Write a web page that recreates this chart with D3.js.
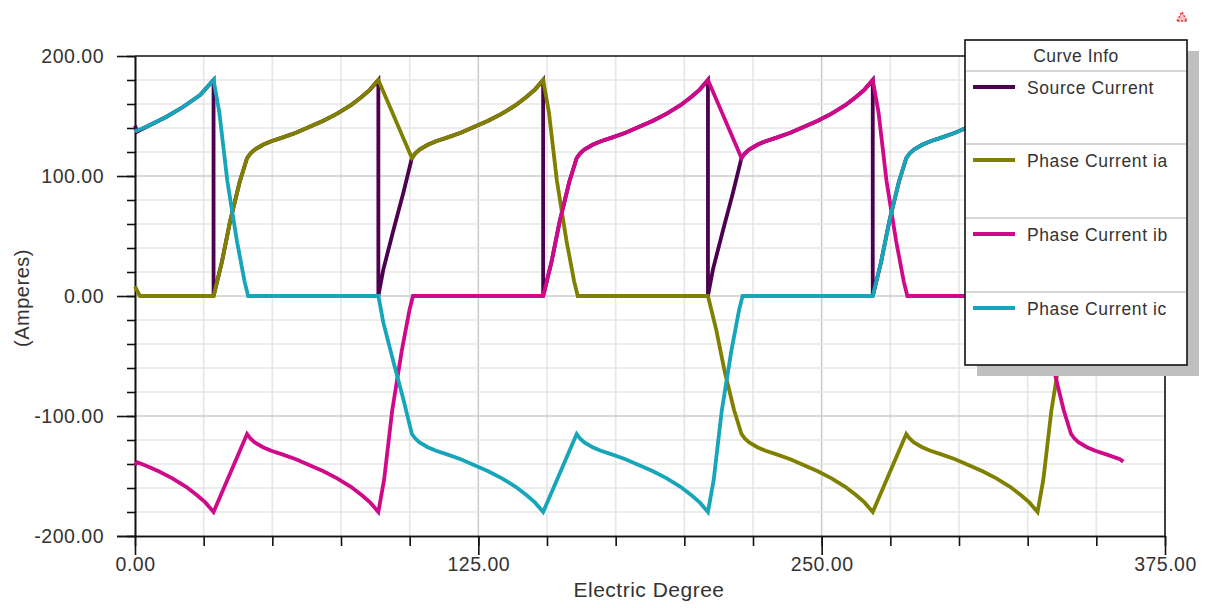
<!DOCTYPE html>
<html>
<head>
<meta charset="utf-8">
<script src="https://cdn.jsdelivr.net/npm/d3@7/dist/d3.min.js"></script>
<style>
  html, body { margin: 0; padding: 0; background: #ffffff; }
  svg { display: block; }
  text { font-family: "Liberation Sans", Arial, sans-serif; fill: #333333; }
</style>
</head>
<body>
<svg id="chart" width="1207" height="608"></svg>
<script>
// ---- data: [electric degree, amperes] ----
const degreeTicks = [0, 125, 250, 375];
const ampereTicks = [-200, -100, 0, 100, 200];
const seriesNames = ["Source Current", "Phase Current ia", "Phase Current ib", "Phase Current ic"];
const seriesColors = ["#4d0050", "#808000", "#cf0a8a", "#17a5ba"];

const sourceCurrent = [
  [0,142],[0.8,137],[5.5,142.5],[11.5,149.4],[17.6,157.7],[23.7,167.5],[28.6,180],[28.6,0],
  [31.6,28],[34.6,62],[38.1,95],[40.8,115],
  [42.1,119],[43.6,122],[46.6,126],[49.6,129],[53.6,132],[58.6,136],[63.6,141],[68.6,146],[73.6,152],[78.6,159],[82.6,166],[85.6,172],[88.6,180],[88.6,0],
  [90.4,22],[94.1,55],[97.7,86],[100.8,115],
  [102.1,119],[103.6,122],[106.6,126],[109.6,129],[113.6,132],[118.6,136],[123.6,141],[128.6,146],[133.6,152],[138.6,159],[142.6,166],[145.6,172],[148.6,180],[148.6,0],
  [151.6,28],[154.6,62],[158.1,95],[160.8,115],
  [162.1,119],[163.6,122],[166.6,126],[169.6,129],[173.6,132],[178.6,136],[183.6,141],[188.6,146],[193.6,152],[198.6,159],[202.6,166],[205.6,172],[208.6,180],[208.6,0],
  [210.4,22],[214.1,55],[217.7,86],[220.8,115],
  [222.1,119],[223.6,122],[226.6,126],[229.6,129],[233.6,132],[238.6,136],[243.6,141],[248.6,146],[253.6,152],[258.6,159],[262.6,166],[265.6,172],[268.6,180],[268.6,0],
  [271.6,28],[274.6,62],[278.1,95],[280.8,115],
  [282.1,119],[283.6,122],[286.6,126],[289.6,129],[293.6,132],[298.6,136],[303.6,141],[308.6,146],[313.6,152],[318.6,159],[322.6,166],[325.6,172],[328.6,180],[328.6,0],
  [330.4,22],[334.1,55],[337.7,86],[340.8,115],
  [342.1,119],[343.6,122],[346.6,126],[349.6,129],[353.6,132],[358.6,136],[359.8,137.5]
];

const phaseA = [
  [0,8],[1.8,0],[28.6,0],
  [31.6,28],[34.6,62],[38.1,95],[40.8,115],
  [42.1,119],[43.6,122],[46.6,126],[49.6,129],[53.6,132],[58.6,136],[63.6,141],[68.6,146],[73.6,152],[78.6,159],[82.6,166],[85.6,172],[88.6,180],
  [100.8,115],
  [102.1,119],[103.6,122],[106.6,126],[109.6,129],[113.6,132],[118.6,136],[123.6,141],[128.6,146],[133.6,152],[138.6,159],[142.6,166],[145.6,172],[148.6,180],
  [150.7,153],[153.6,96],[157.1,46],[159.9,12],[161.2,0],
  [208.6,0],
  [211.6,-28],[214.6,-62],[218.1,-95],[220.8,-115],
  [222.1,-119],[223.6,-122],[226.6,-126],[229.6,-129],[233.6,-132],[238.6,-136],[243.6,-141],[248.6,-146],[253.6,-152],[258.6,-159],[262.6,-166],[265.6,-172],[268.6,-180],
  [280.8,-115],
  [282.1,-119],[283.6,-122],[286.6,-126],[289.6,-129],[293.6,-132],[298.6,-136],[303.6,-141],[308.6,-146],[313.6,-152],[318.6,-159],[322.6,-166],[325.6,-172],[328.6,-180],
  [330.7,-153],[333.6,-96],[337.1,-46],[339.9,-12],[341.2,0],
  [359.8,0]
];

const phaseB = [
  [0,-141],[0.8,-138.5],[3.6,-141],[8.6,-146],[13.6,-152],[18.6,-159],[22.6,-166],[25.6,-172],[28.6,-180],
  [40.8,-115],
  [42.1,-119],[43.6,-122],[46.6,-126],[49.6,-129],[53.6,-132],[58.6,-136],[63.6,-141],[68.6,-146],[73.6,-152],[78.6,-159],[82.6,-166],[85.6,-172],[88.6,-180],
  [90.7,-153],[93.6,-96],[97.1,-46],[99.9,-12],[101.2,0],
  [148.6,0],
  [151.6,28],[154.6,62],[158.1,95],[160.8,115],
  [162.1,119],[163.6,122],[166.6,126],[169.6,129],[173.6,132],[178.6,136],[183.6,141],[188.6,146],[193.6,152],[198.6,159],[202.6,166],[205.6,172],[208.6,180],
  [220.8,115],
  [222.1,119],[223.6,122],[226.6,126],[229.6,129],[233.6,132],[238.6,136],[243.6,141],[248.6,146],[253.6,152],[258.6,159],[262.6,166],[265.6,172],[268.6,180],
  [270.7,153],[273.6,96],[277.1,46],[279.9,12],[281.2,0],
  [328.6,0],
  [331.6,-28],[334.6,-62],[338.1,-95],[340.8,-115],
  [342.1,-119],[343.6,-122],[346.6,-126],[349.6,-129],[353.6,-132],[358.6,-136],[359.8,-138]
];

const phaseC = [
  [0,137],[5.5,142.5],[11.5,149.4],[17.6,157.7],[23.7,167.5],[28.6,180],
  [30.7,153],[33.6,96],[37.1,46],[39.9,12],[41.2,0],
  [88.6,0],
  [90.4,-22],[94.1,-55],[97.7,-86],[100.8,-115],
  [102.1,-119],[103.6,-122],[106.6,-126],[109.6,-129],[113.6,-132],[118.6,-136],[123.6,-141],[128.6,-146],[133.6,-152],[138.6,-159],[142.6,-166],[145.6,-172],[148.6,-180],
  [160.8,-115],
  [162.1,-119],[163.6,-122],[166.6,-126],[169.6,-129],[173.6,-132],[178.6,-136],[183.6,-141],[188.6,-146],[193.6,-152],[198.6,-159],[202.6,-166],[205.6,-172],[208.6,-180],
  [210.7,-153],[213.6,-96],[217.1,-46],[219.9,-12],[221.2,0],
  [268.6,0],
  [271.6,28],[274.6,62],[278.1,95],[280.8,115],
  [282.1,119],[283.6,122],[286.6,126],[289.6,129],[293.6,132],[298.6,136],[303.6,141],[308.6,146],[313.6,152],[318.6,159],[322.6,166],[325.6,172],[328.6,180],
  [340.8,115],
  [342.1,119],[343.6,122],[346.6,126],[349.6,129],[353.6,132],[358.6,136],[359.8,137.5]
];

const seriesData = [sourceCurrent, phaseA, phaseB, phaseC];

// ---- layout ----
const svg = d3.select("#chart");
const plot = { left: 135, right: 1165, top: 56, bottom: 536 };
const x = d3.scaleLinear().domain([0, 375]).range([plot.left, plot.right]);
const y = d3.scaleLinear().domain([-200, 200]).range([plot.bottom, plot.top]);

const xMinor = d3.range(0, 376, 25);
const yMinor = d3.range(-200, 201, 20);

// grid
const grid = svg.append("g");
grid.selectAll("line.vx").data(xMinor.filter(d => d > 0 && d < 375)).join("line")
  .attr("x1", d => x(d)).attr("x2", d => x(d))
  .attr("y1", plot.top).attr("y2", plot.bottom)
  .attr("stroke", d => degreeTicks.includes(d) ? "#cdcdcd" : "#e6e6e6")
  .attr("stroke-width", 1.6);
grid.selectAll("line.hy").data(yMinor.filter(d => d > -200 && d < 200)).join("line")
  .attr("x1", plot.left).attr("x2", plot.right)
  .attr("y1", d => y(d)).attr("y2", d => y(d))
  .attr("stroke", d => ampereTicks.includes(d) ? "#cdcdcd" : "#e6e6e6")
  .attr("stroke-width", 1.6);

// frame (top and right edges)
svg.append("line").attr("x1", plot.left).attr("x2", plot.right).attr("y1", plot.top).attr("y2", plot.top)
  .attr("stroke", "#111").attr("stroke-width", 1.6);
svg.append("line").attr("x1", plot.right).attr("x2", plot.right).attr("y1", plot.top).attr("y2", plot.bottom)
  .attr("stroke", "#111").attr("stroke-width", 1.6);

// axes
const fmt = v => d3.format(".2f")(v).replace("\u2212", "-");
function styleAxis(g) {
  g.selectAll("path.domain").attr("stroke", "#111").attr("stroke-width", 1.6);
  g.selectAll(".tick line").attr("stroke", "#111").attr("stroke-width", 1.6);
  g.selectAll("text")
    .style("font-family", "'Liberation Sans', Arial, sans-serif")
    .style("font-size", "19.5px")
    .style("letter-spacing", "0.5px")
    .attr("fill", "#333");
}

svg.append("g").attr("transform", `translate(0,${plot.bottom})`)
  .call(d3.axisBottom(x).tickValues(xMinor).tickSize(10).tickSizeOuter(0).tickFormat(""))
  .call(styleAxis);
svg.append("g").attr("transform", `translate(0,${plot.bottom})`)
  .call(d3.axisBottom(x).tickValues(degreeTicks).tickSize(19).tickSizeOuter(0).tickPadding(2).tickFormat(fmt))
  .call(styleAxis)
  .call(g => g.select("path.domain").attr("d", `M${plot.left - 18},0.5H${plot.right}`));

svg.append("g").attr("transform", `translate(${plot.left},0)`)
  .call(d3.axisLeft(y).tickValues(yMinor).tickSize(8).tickSizeOuter(0).tickFormat(""))
  .call(styleAxis);
svg.append("g").attr("transform", `translate(${plot.left},0)`)
  .call(d3.axisLeft(y).tickValues(ampereTicks).tickSize(18).tickSizeOuter(0).tickPadding(13).tickFormat(fmt))
  .call(styleAxis);

// axis titles
svg.append("text").attr("x", 649).attr("y", 597).attr("text-anchor", "middle")
  .style("font-size", "21px").style("letter-spacing", "0.5px").text("Electric Degree");
svg.append("text").attr("transform", "translate(29,298) rotate(-90)").attr("text-anchor", "middle")
  .style("font-size", "20px").style("letter-spacing", "0.5px").text("(Amperes)");

// curves
const line = d3.line().x(d => x(d[0])).y(d => y(d[1]));
svg.append("g").selectAll("path").data(seriesData).join("path")
  .attr("d", d => line(d))
  .attr("fill", "none")
  .attr("stroke", (d, i) => seriesColors[i])
  .attr("stroke-width", 3.8)
  .attr("stroke-linejoin", "miter")
  .attr("stroke-miterlimit", 3);

// legend
const lg = { x: 965, y: 40, w: 222, h: 325 };
svg.append("rect").attr("x", lg.x + 12).attr("y", lg.y + 11).attr("width", lg.w).attr("height", lg.h)
  .attr("fill", "#bfbfbf");
svg.append("rect").attr("x", lg.x).attr("y", lg.y).attr("width", lg.w).attr("height", lg.h)
  .attr("fill", "#ffffff").attr("stroke", "#111").attr("stroke-width", 1.6);
svg.append("text").attr("x", lg.x + lg.w / 2).attr("y", 62).attr("text-anchor", "middle")
  .style("font-size", "17.5px").style("letter-spacing", "0.5px").text("Curve Info");
const rowTop = [71, 144, 218, 292];
svg.append("g").selectAll("line").data(rowTop).join("line")
  .attr("x1", lg.x + 1).attr("x2", lg.x + lg.w - 1)
  .attr("y1", d => d).attr("y2", d => d)
  .attr("stroke", "#c8c8c8").attr("stroke-width", 1.4);
const entries = svg.append("g").selectAll("g").data(seriesNames).join("g")
  .attr("transform", (d, i) => `translate(0,${rowTop[i] + 16})`);
entries.append("line").attr("x1", 973).attr("x2", 1015).attr("y1", 0).attr("y2", 0)
  .attr("stroke", (d, i) => seriesColors[i]).attr("stroke-width", 3.8);
entries.append("text").attr("x", 1027).attr("y", 7)
  .style("font-size", "17.5px").style("letter-spacing", "0.6px").text(d => d);

// small status marker in the corner
svg.append("path").attr("d", "M1177,21 L1182,12 L1187,21 Z")
  .attr("fill", "#f6c2c2").attr("stroke", "#e03030").attr("stroke-width", 1.4)
  .attr("stroke-dasharray", "2,1.5");
</script>
</body>
</html>
